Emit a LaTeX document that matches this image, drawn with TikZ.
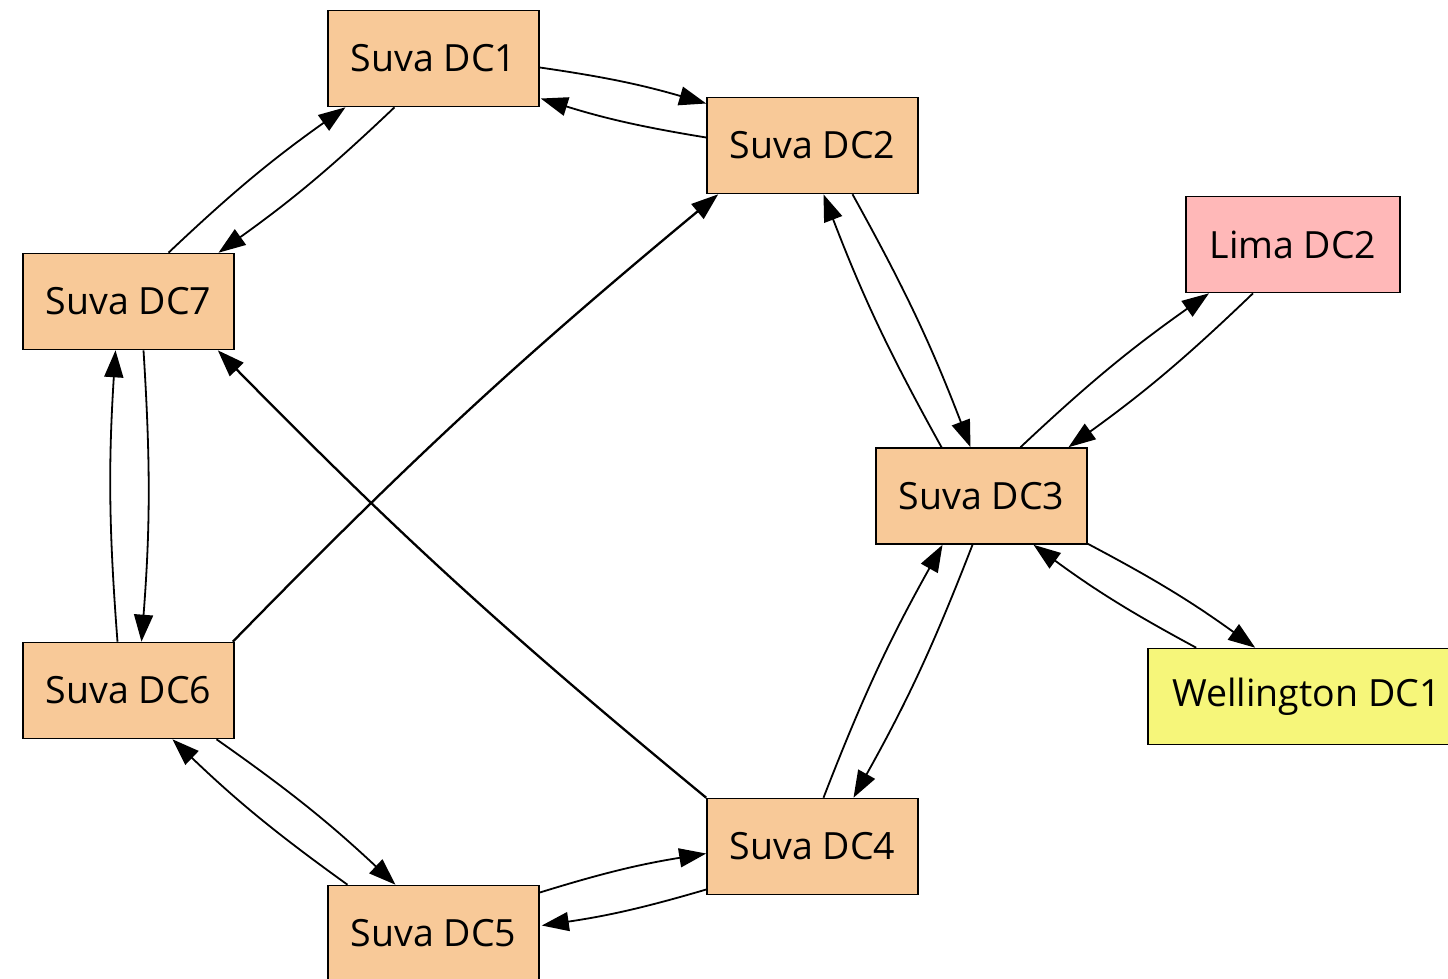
\documentclass[tikz,border=0pt]{standalone}
\usepackage{fontspec}
\setmainfont{Open Sans}
\usetikzlibrary{arrows.meta,calc}
\definecolor{dcorange}{HTML}{F8C998}
\definecolor{dcpink}{HTML}{FFB8B8}
\definecolor{dcyellow}{HTML}{F6F67A}
\begin{document}
\begin{tikzpicture}[x=1pt, y=-1pt,
    dc/.style={rectangle,draw,line width=1.6pt,fill=dcorange,minimum width=211pt,minimum height=96pt,inner sep=0pt,font=\fontsize{37.5}{44}\selectfont},
    link/.style={line width=1.8pt,-{Triangle[length=27pt,width=19pt]},bend left=4},
    crosslink/.style={link,line width=2.3pt,bend left=3}]
    \useasboundingbox (0,0) rectangle (1448,978);
    \clip (0,0) rectangle (1448,978);

    % sites
    \node[dc] (dc1) at (433.5,58.5) {Suva DC1} ;
    \node[dc] (dc2) at (812.5,145.5) {Suva DC2} ;
    \node[dc,fill=dcpink,minimum width=214pt] (lima2) at (1293,244.5) {Lima DC2} ;
    \node[dc] (dc7) at (128.5,301.5) {Suva DC7} ;
    \node[dc] (dc3) at (981.5,496) {Suva DC3} ;
    \node[dc] (dc6) at (128.5,690.5) {Suva DC6} ;
    \node[dc,fill=dcyellow,minimum width=317pt] (wel1) at (1306.5,696.5) {Wellington DC1} ;
    \node[dc] (dc4) at (812.5,846.5) {Suva DC4} ;
    \node[dc] (dc5) at (433.5,933.5) {Suva DC5} ;

    % ring links
    \draw[link] ($(dc1.east)+(0,9)$) to ($(dc2.west)+(0,-42)$) ;
    \draw[link] ($(dc2.west)+(0,-8)$) to ($(dc1.east)+(1,40)$) ;
    \draw[link] ($(dc7.north)+(40,0)$) to ($(dc1.south)+(-88,0)$) ;
    \draw[link] ($(dc1.south)+(-39,0)$) to ($(dc7.north)+(90,0)$) ;
    \draw[link] ($(dc7.south)+(15,0)$) to ($(dc6.north)+(13,0)$) ;
    \draw[link] ($(dc6.north)+(-11,0)$) to ($(dc7.south)+(-13,0)$) ;
    \draw[link] ($(dc2.south)+(40,0)$) to ($(dc3.north)+(-11,0)$) ;
    \draw[link] ($(dc3.north)+(-40,0)$) to ($(dc2.south)+(11,0)$) ;
    \draw[link] ($(dc3.south)+(-9,0)$) to ($(dc4.north)+(41,0)$) ;
    \draw[link] ($(dc4.north)+(11,0)$) to ($(dc3.south)+(-39,0)$) ;
    \draw[link] ($(dc4.west)+(0,43)$) to ($(dc5.east)+(2,-8)$) ;
    \draw[link] ($(dc5.east)+(0,-41)$) to ($(dc4.west)+(0,7)$) ;
    \draw[link] ($(dc5.north)+(-86,0)$) to ($(dc6.south)+(44,0)$) ;
    \draw[link] ($(dc6.south)+(88,0)$) to ($(dc5.north)+(-38,0)$) ;

    % outside links
    \draw[link] ($(dc3.north)+(39,0)$) to ($(lima2.south)+(-84,0)$) ;
    \draw[link] ($(lima2.south)+(-40,0)$) to ($(dc3.north)+(87,0)$) ;
    \draw[link] ($(dc3.south east)+(0,-1)$) to ($(wel1.north west)+(108,0)$) ;
    \draw[link] ($(wel1.north west)+(49,0)$) to ($(dc3.south)+(52,0)$) ;

    % cross links
    \draw[crosslink] ($(dc6.north east)+(-2,0)$) to ($(dc2.south west)+(12,0)$) ;
    \draw[crosslink] (dc4.north west) to ($(dc7.south east)+(-17,0)$) ;
\end{tikzpicture}
\end{document}
